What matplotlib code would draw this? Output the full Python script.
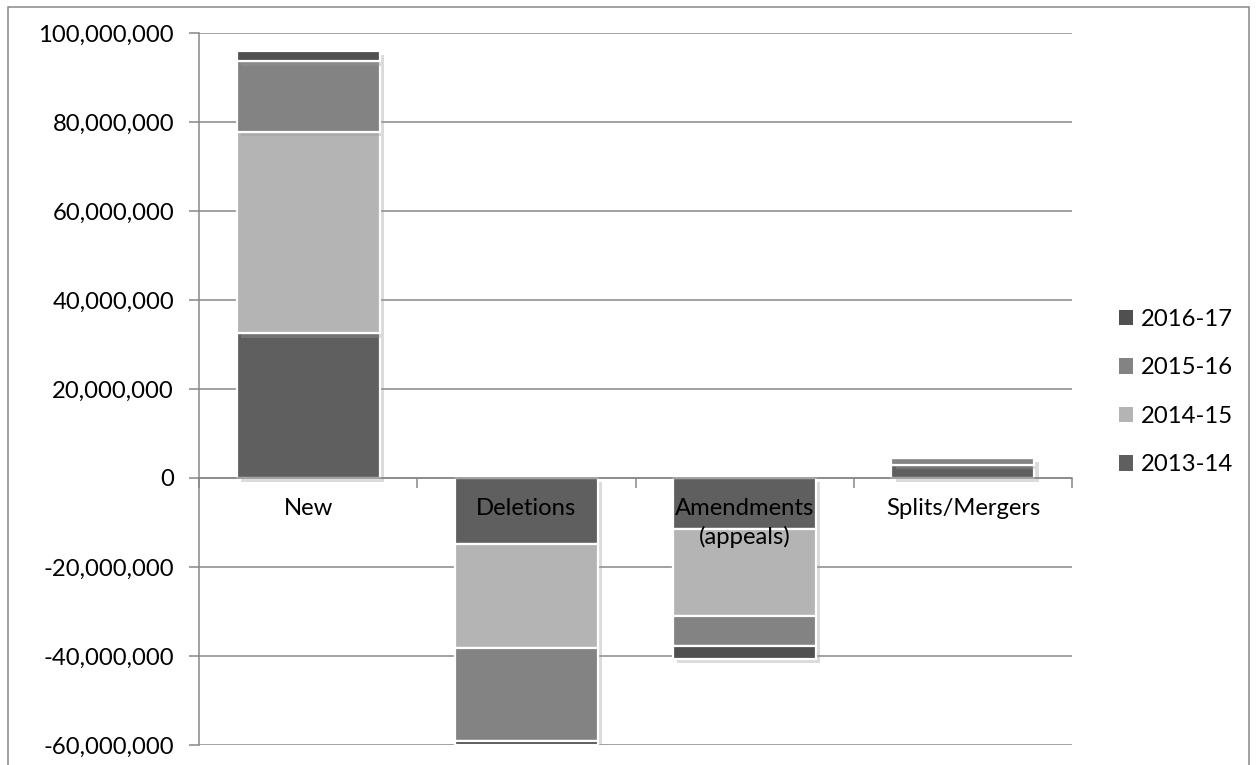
import matplotlib
matplotlib.use("Agg")
import matplotlib.pyplot as plt
import matplotlib.patheffects as pe
from matplotlib.patches import Patch, Rectangle
from matplotlib.ticker import FuncFormatter, FixedLocator
import numpy as np

categories = ["New", "Deletions", "Amendments\n(appeals)", "Splits/Mergers"]
series_names = ["2013-14", "2014-15", "2015-16", "2016-17"]
v_2013_14 = [32.5e6, -14.8e6, -11.5e6, 2.9e6]
v_2014_15 = [45.2e6, -23.5e6, -19.5e6, 0.0]
v_2015_16 = [15.9e6, -20.7e6, -6.8e6, 1.7e6]
v_2016_17 = [2.3e6, -0.9e6, -2.9e6, 0.0]
series_values = [v_2013_14, v_2014_15, v_2015_16, v_2016_17]
colors = ["#5f5f5f", "#b4b4b4", "#838383", "#505050"]
y_ticks = [-60e6, -40e6, -20e6, 0, 20e6, 40e6, 60e6, 80e6, 100e6]

plt.rcParams['font.family'] = ['Lato', 'DejaVu Sans']
fs = 17.2

fig = plt.figure(figsize=(12.57, 7.65), dpi=100)
W, H = 1257, 765
ax = fig.add_axes([199 / W, 1 - 745 / H, (1072 - 199) / W, (745 - 33) / H])

x = np.arange(len(categories))
pos_base = np.zeros(len(categories))
neg_base = np.zeros(len(categories))
shadow = [pe.SimplePatchShadow(offset=(3, -3), shadow_rgbFace="#9a9a9a", alpha=0.35), pe.Normal()]
for name, vals, c in zip(series_names, series_values, colors):
    vals = np.array(vals)
    base = np.where(vals >= 0, pos_base, neg_base)
    bars = ax.bar(x, vals, bottom=base, width=0.655, color=c, edgecolor="white",
                  linewidth=1.6, label=name, zorder=1)
    for b in bars:
        b.set_path_effects(shadow)
    pos_base = pos_base + np.where(vals >= 0, vals, 0)
    neg_base = neg_base + np.where(vals < 0, vals, 0)

ax.set_xlim(-0.5, len(categories) - 0.5)
ax.set_ylim(-60e6, 100e6)
ax.hlines(y_ticks, -0.5, len(categories) - 0.5, colors="#888888", linewidth=1.1, zorder=0.5)

ax.yaxis.set_major_locator(FixedLocator(y_ticks))
ax.yaxis.set_major_formatter(FuncFormatter(lambda v, p: f"{v:,.0f}"))
ax.tick_params(axis="y", length=7, width=1.1, color="#888888", labelsize=fs, pad=11, labelcolor="black")

ax.spines["top"].set_visible(False)
ax.spines["right"].set_visible(False)
ax.spines["left"].set_color("#888888")
ax.spines["left"].set_linewidth(1.1)
ax.spines["bottom"].set_position(("data", 0))
ax.spines["bottom"].set_color("#888888")
ax.spines["bottom"].set_linewidth(1.1)

ax.set_xticks(x)
ax.set_xticklabels(categories, fontsize=fs, linespacing=1.38)
ax.tick_params(axis="x", which="major", length=0, pad=14.5)
ax.set_xticks(np.arange(-0.5, len(categories)), minor=True)
ax.tick_params(axis="x", which="minor", length=7, width=1.1, color="#888888")

handles = [Patch(facecolor=c, edgecolor="none", label=n) for n, c in zip(series_names, colors)][::-1]
fig.legend(handles=handles, loc="upper left", bbox_to_anchor=(1119 / W, 1 - 309 / H),
           frameon=False, fontsize=fs, handlelength=0.6, handleheight=0.6,
           handletextpad=0.3, labelspacing=1.15, borderpad=0, borderaxespad=0)

fig.patches.append(Rectangle((8 / W, -0.01), (1249 - 8) / W, 1 - 7 / H + 0.01,
                             transform=fig.transFigure, fill=False, edgecolor="#888888",
                             linewidth=1.1))

fig.savefig("out.png", dpi=100)
